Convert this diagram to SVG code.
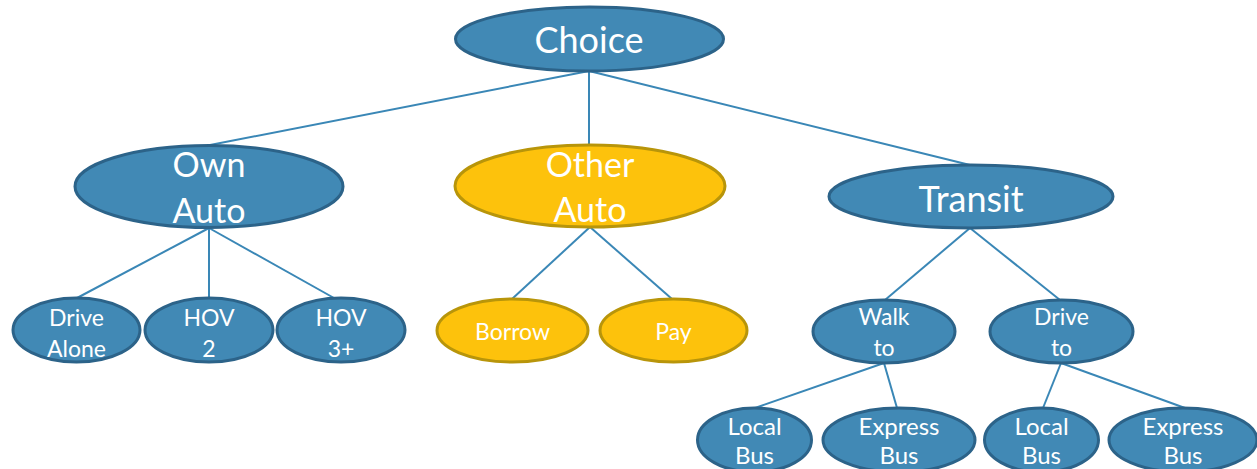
<svg xmlns="http://www.w3.org/2000/svg" width="1257" height="469" viewBox="0 0 1257 469">
<style>
.b{fill:#4189B5;stroke:#2C6389;stroke-width:3}
.y{fill:#FDC20C;stroke:#B8950A;stroke-width:3}
text{font-family:Lato,"Open Sans","Liberation Sans",sans-serif;fill:#fff;text-anchor:middle}
.l{font-size:36px}
.m{font-size:34px}
.s{font-size:23px}
.t{font-size:24px}
.c line{stroke:#3A87B6;stroke-width:2}
</style>
<rect width="1257" height="469" fill="#fff"/>
<g class="c" id="connectors">
<line x1="589" y1="71" x2="210" y2="145"/>
<line x1="589" y1="71" x2="589" y2="145"/>
<line x1="589" y1="71" x2="970" y2="165"/>
<line x1="209" y1="228" x2="77" y2="298"/>
<line x1="209" y1="228" x2="209" y2="298"/>
<line x1="209" y1="228" x2="334" y2="298"/>
<line x1="590" y1="227" x2="512" y2="299"/>
<line x1="590" y1="227" x2="672" y2="299"/>
<line x1="970" y1="228" x2="885" y2="300"/>
<line x1="970" y1="228" x2="1060" y2="300"/>
<line x1="884" y1="363" x2="755" y2="408"/>
<line x1="884" y1="363" x2="897" y2="408"/>
<line x1="1061" y1="363" x2="1043" y2="408"/>
<line x1="1061" y1="363" x2="1185" y2="408"/>
</g>
<g id="choice"><ellipse class="b" cx="589.5" cy="39" rx="134" ry="32"/><text class="l" x="589" y="53">Choice</text></g>
<g id="own-auto"><ellipse class="b" cx="209" cy="186.5" rx="134" ry="41"/><text class="m" x="209" y="177">Own</text><text class="m" x="209" y="223">Auto</text></g>
<g id="other-auto"><ellipse class="y" cx="590" cy="186" rx="135" ry="41"/><text class="m" x="590" y="177">Other</text><text class="m" x="590" y="222">Auto</text></g>
<g id="transit"><ellipse class="b" cx="971" cy="196.5" rx="142" ry="31.5"/><text class="l" x="971" y="212">Transit</text></g>
<g id="drive-alone"><ellipse class="b" cx="76.5" cy="330" rx="63.5" ry="32"/><text class="s" x="76.5" y="326">Drive</text><text class="s" x="76.5" y="357">Alone</text></g>
<g id="hov2"><ellipse class="b" cx="209" cy="330" rx="64" ry="32"/><text class="s" x="209" y="326">HOV</text><text class="s" x="209" y="357">2</text></g>
<g id="hov3"><ellipse class="b" cx="341" cy="330" rx="64" ry="32"/><text class="s" x="341" y="326">HOV</text><text class="s" x="341" y="357">3+</text></g>
<g id="borrow"><ellipse class="y" cx="512.5" cy="330.5" rx="75.5" ry="31.5"/><text class="s" x="512.5" y="340">Borrow</text></g>
<g id="pay"><ellipse class="y" cx="673.5" cy="330.5" rx="73.5" ry="31.5"/><text class="s" x="673.5" y="340">Pay</text></g>
<g id="walk-to"><ellipse class="b" cx="884" cy="331.5" rx="71" ry="31.5"/><text class="s" x="884" y="325">Walk</text><text class="s" x="884" y="356">to</text></g>
<g id="drive-to"><ellipse class="b" cx="1061.5" cy="331.5" rx="71.5" ry="31.5"/><text class="s" x="1061.5" y="325">Drive</text><text class="s" x="1061.5" y="356">to</text></g>
<g id="local-bus-1"><ellipse class="b" cx="754.5" cy="440" rx="57" ry="32"/><text class="t" x="754.5" y="435">Local</text><text class="t" x="754.5" y="464">Bus</text></g>
<g id="express-bus-1"><ellipse class="b" cx="899" cy="440" rx="76" ry="32"/><text class="t" x="899" y="435">Express</text><text class="t" x="899" y="464">Bus</text></g>
<g id="local-bus-2"><ellipse class="b" cx="1041.5" cy="440" rx="57" ry="32"/><text class="t" x="1041.5" y="435">Local</text><text class="t" x="1041.5" y="464">Bus</text></g>
<g id="express-bus-2"><ellipse class="b" cx="1183" cy="440" rx="74" ry="32"/><text class="t" x="1183" y="435">Express</text><text class="t" x="1183" y="464">Bus</text></g>
</svg>
